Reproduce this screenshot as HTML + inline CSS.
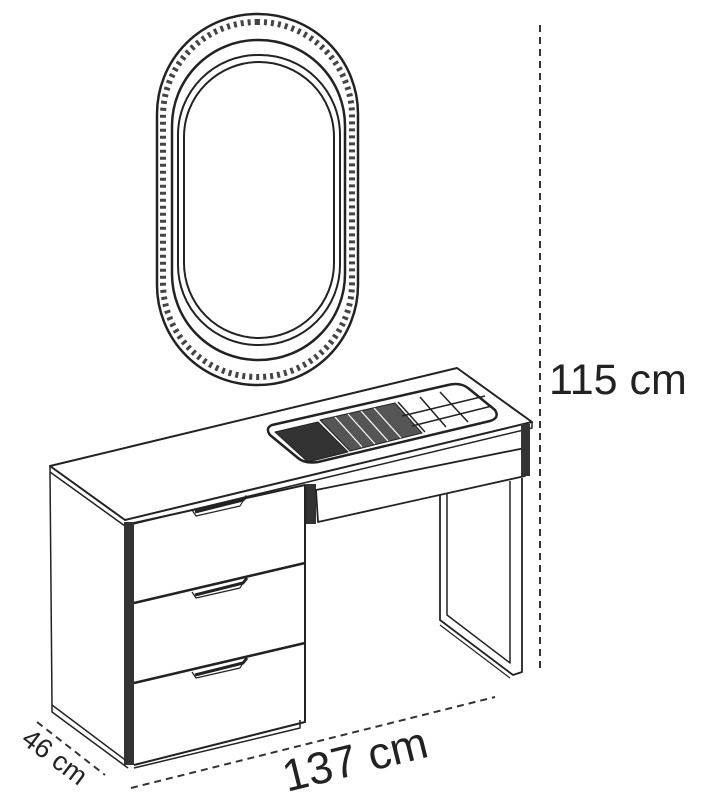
<!DOCTYPE html>
<html><head><meta charset="utf-8"><style>
html,body{margin:0;padding:0;background:#fff;}
svg{display:block}
text{font-family:"Liberation Sans",sans-serif;fill:#222;}
</style></head><body>
<svg width="703" height="806" viewBox="0 0 703 806" xmlns="http://www.w3.org/2000/svg">
<g fill="none" stroke="#222" stroke-linejoin="round">
<!-- Mirror -->
<rect x="157" y="14" width="201" height="371" rx="100" stroke-width="2.5"/>
<rect x="163" y="22" width="189" height="355" rx="94" stroke-width="6" stroke-dasharray="3 4" stroke="#444"/>
<rect x="172" y="40" width="173" height="320" rx="86" stroke-width="2.5"/>
<rect x="178" y="55" width="162" height="290" rx="80" stroke-width="2"/>
<rect x="184" y="62" width="150" height="276" rx="75" stroke-width="2"/>
<!-- Table top -->
<path d="M50,466 L457,368 L532,422 L125,520 Z" stroke-width="2" fill="#fff"/>
<path d="M50,466 L50,472 L125,526 L532,428 L532,422" stroke-width="1.5"/>
<!-- tray -->
<path d="M272,425 L448,385 Q460,382 468,388 L495,410 Q500,418 490,421 L318,462 Q305,464 298,458 L270,435 Q265,428 272,425 Z" stroke-width="2.5"/>
<path d="M275,432 L318,422 L348,452 L308,462 Z" fill="#333" stroke-width="1"/>
<path d="M320,420 L395,403 L422,433 L350,451 Z" fill="#555" stroke-width="1"/>
<g stroke="#fff" stroke-width="1.2"><path d="M335,417 L362,447"/><path d="M348,414 L375,444"/><path d="M361,411 L388,441"/><path d="M374,408 L401,438"/></g>
<g stroke-width="1.5"><path d="M398,402 L425,432"/><path d="M420,397 L446,427"/><path d="M440,392 L468,422"/><path d="M402,416 L485,396"/><path d="M412,426 L492,406"/></g>
<!-- cabinet -->
<path d="M50,472 L52,705 L128,762" stroke-width="1.5"/>
<path d="M52,705 L52,712 L128,768" stroke-width="1.5"/>
<rect x="124" y="522" width="10" height="243" fill="#333" stroke="none"/>
<path d="M134,523 L305,485 L305,722 L134,765" stroke-width="2"/>
<path d="M134,768 L300,728 L300,720" stroke-width="1.5"/>
<path d="M134,603 L305,563" stroke-width="2.5"/>
<path d="M134,683 L305,643" stroke-width="2.5"/>
<g stroke-width="3"><path d="M195,512 L243,500 L247,496"/><path d="M195,595 L243,583 L247,578"/><path d="M195,675 L243,663 L247,658"/></g>
<g stroke-width="1.2"><path d="M192,510 L196,516 L240,506 L246,496"/><path d="M192,592 L196,598 L240,588 L246,578"/><path d="M192,672 L196,678 L240,668 L246,658"/></g>
<rect x="306" y="484" width="10" height="40" fill="#333" stroke="none"/>
<!-- drawer front -->
<path d="M316,490 L525,448 L525,476 L318,522 Z" stroke-width="1.8"/>
<rect x="521" y="424" width="9" height="52" fill="#333" stroke="none"/>
<!-- leg -->
<path d="M440,495 L440,620 L513,675 L522,672 L522,478" stroke-width="1.8"/>
<path d="M447,493 L447,615 L510,663 L510,481" stroke-width="1.5"/>
<path d="M440,625 L510,678" stroke-width="1.2"/>
</g>
<!-- dimension lines -->
<g stroke="#333" stroke-width="2" stroke-dasharray="7 5" fill="none">
<path d="M540,25 L540,668"/>
<path d="M131,788 L495,697"/>
<path d="M37,722 L105,775"/>
</g>
<text x="549" y="394" font-size="43">115 cm</text>
<text transform="translate(287,792) rotate(-14)" font-size="45">137 cm</text>
<text transform="translate(20,742) rotate(37)" font-size="27">46 cm</text>
</svg>
</body></html>
